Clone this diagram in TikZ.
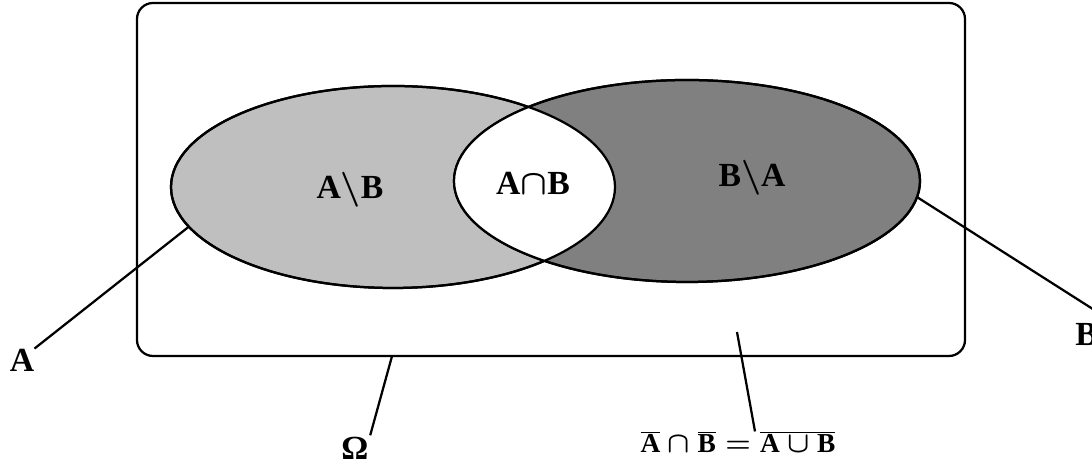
\documentclass[tikz,border=0pt]{standalone}
\usepackage{fontspec}
\setmainfont{Liberation Serif}
\usetikzlibrary{shapes.geometric}

\tikzset{
	setshape/.style={ellipse, draw, line width=1.6pt, inner sep=0pt, outer sep=0pt, minimum height=5.05cm},
	setlabel/.style={font=\fontsize{24}{28}\selectfont\bfseries\boldmath, inner sep=0pt},
	leader/.style={line width=1.6pt},
}

\begin{document}
\begin{tikzpicture}
	\useasboundingbox (0,0) rectangle (27.3,11.675);
	% universe
	\node[draw, line width=1.6pt, rounded corners=0.4cm, minimum width=20.7cm, minimum height=8.825cm, inner sep=0pt, outer sep=0pt] (omega) at (13.775,7.1875) {};
	% the two sets
	\node[setshape, fill=gray!50, minimum width=11.1cm] (setA) at (9.825,7) {};
	\node[setshape, fill=gray, minimum width=11.65cm] (setB) at (17.175,7.15) {};
	\begin{scope}
		\clip (setA.center) ellipse [x radius=5.55cm, y radius=2.525cm];
		\fill[white] (setB.center) ellipse [x radius=5.825cm, y radius=2.525cm];
	\end{scope}
	\draw[line width=1.6pt] (setA.center) ellipse [x radius=5.55cm, y radius=2.525cm]
		(setB.center) ellipse [x radius=5.825cm, y radius=2.525cm];
	% labels
	\node[setlabel] (AminusB) at (8.75,6.925) {A$\backslash$B};
	\node[setlabel] (AcapB) at (13.325,7.1) {A$\cap$B};
	\node[setlabel] (BminusA) at (18.8,7.225) {B$\backslash$A};
	\node[setlabel] (lblA) at (0.55,2.675) {A};
	\node[setlabel, anchor=west, inner ysep=8pt] (lblB) at (26.875,3.3) {B};
	\node[setlabel, inner sep=1pt] (lblO) at (8.875,0.47) {Ω};
	\node[setlabel, font=\fontsize{19.5}{22}\selectfont\bfseries\boldmath] (lblF) at (18.45,0.62)
		{$\overline{\textbf{A}}\cap\overline{\textbf{B}}=\overline{\textbf{A}\cup\textbf{B}}$};
	\coordinate (inside) at (18.425,3.375);
	% leaders
	\draw[leader] (setA.191) -- (lblA.north east);
	\draw[leader] (setB.356.5) -- (lblB.north east);
	\draw[leader] (omega.228) -- (lblO.north east);
	\draw[leader] (inside) -- ([xshift=0.425cm]lblF.north);
\end{tikzpicture}
\end{document}
